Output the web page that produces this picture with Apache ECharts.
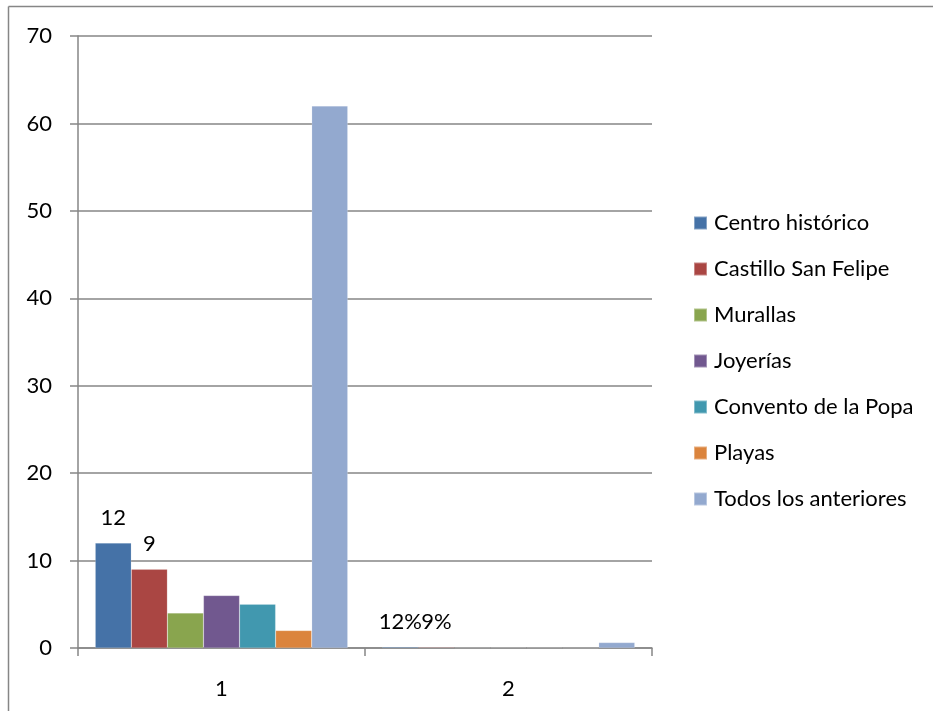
<!DOCTYPE html>
<html>
<head>
<meta charset="utf-8">
<script src="https://cdn.jsdelivr.net/npm/echarts@6/dist/echarts.min.js"></script>
<style>
  html, body { margin: 0; padding: 0; background: #fff; }
  #chart { width: 933px; height: 711px; }
</style>
</head>
<body>
<div id="chart"></div>
<script>
// Categories on the x axis
const categories = ['1', '2'];

// Series names (legend order)
const seriesNames = [
  'Centro histórico',
  'Castillo San Felipe',
  'Murallas',
  'Joyerías',
  'Convento de la Popa',
  'Playas',
  'Todos los anteriores'
];

// Values per series: [count, share]
const centroHistorico = [12, 0.12];
const castilloSanFelipe = [9, 0.09];
const murallas = [4, 0.04];
const joyerias = [6, 0.06];
const conventoPopa = [5, 0.05];
const playas = [2, 0.02];
const todosAnteriores = [62, 0.62];

const yTicks = [0, 10, 20, 30, 40, 50, 60, 70];

const colors = ['#4572A7', '#AA4643', '#89A54E', '#71588F', '#4198AF', '#DB843D', '#93A9CF'];

const allValues = [centroHistorico, castilloSanFelipe, murallas, joyerias, conventoPopa, playas, todosAnteriores];
// Only the first two series carry value labels
const labelled = [true, true, false, false, false, false, false];

const FONT = 'Lato';
const FS = 22;

function labelText(p) {
  if (p.dataIndex === 0) return String(p.value);
  return Math.round(p.value * 100) + '%';
}

const series = seriesNames.map((name, i) => ({
  name: name,
  type: 'bar',
  data: allValues[i],
  barGap: 0,
  barCategoryGap: '12%',
  itemStyle: { color: colors[i], borderColor: 'rgba(255,255,255,0.35)', borderWidth: 0.5 },
  label: {
    show: labelled[i],
    position: 'top',
    distance: 14,
    formatter: labelText,
    color: '#000',
    fontFamily: FONT,
    fontSize: FS
  },
  emphasis: { disabled: true }
}));

const chart = echarts.init(document.getElementById('chart'), null, { renderer: 'canvas' });
chart.setOption({
  animation: false,
  backgroundColor: '#fff',
  textStyle: { fontFamily: FONT },
  grid: { left: 78, top: 36, width: 574, height: 612, containLabel: false },
  legend: {
    orient: 'vertical',
    left: 693,
    top: 212,
    padding: 0,
    itemWidth: 13,
    itemHeight: 13,
    itemGap: 24,
    icon: 'rect',
    textStyle: { fontFamily: FONT, fontSize: FS, color: '#000', padding: [0, 0, 0, 2] },
    data: seriesNames
  },
  xAxis: {
    type: 'category',
    data: categories,
    axisLine: { lineStyle: { color: '#868686', width: 1.5 } },
    axisTick: { show: true, length: 8, alignWithLabel: false, lineStyle: { color: '#868686', width: 1.5 } },
    axisLabel: { color: '#000', fontFamily: FONT, fontSize: FS, margin: 30 }
  },
  yAxis: {
    type: 'value',
    min: yTicks[0],
    max: yTicks[yTicks.length - 1],
    interval: 10,
    axisLine: { show: true, lineStyle: { color: '#868686', width: 1.5 } },
    axisTick: { show: true, length: 8, lineStyle: { color: '#868686', width: 1.5 } },
    axisLabel: { color: '#000', fontFamily: FONT, fontSize: FS, margin: 26 },
    splitLine: { show: true, lineStyle: { color: '#868686', width: 1.5 } }
  },
  graphic: [
    { type: 'line', shape: { x1: 8.5, y1: 6.5, x2: 933, y2: 6.5 }, style: { stroke: '#868686', lineWidth: 1.5 } },
    { type: 'line', shape: { x1: 8.5, y1: 6.5, x2: 8.5, y2: 711 }, style: { stroke: '#868686', lineWidth: 1.5 } }
  ],
  series: series
});
</script>
</body>
</html>
